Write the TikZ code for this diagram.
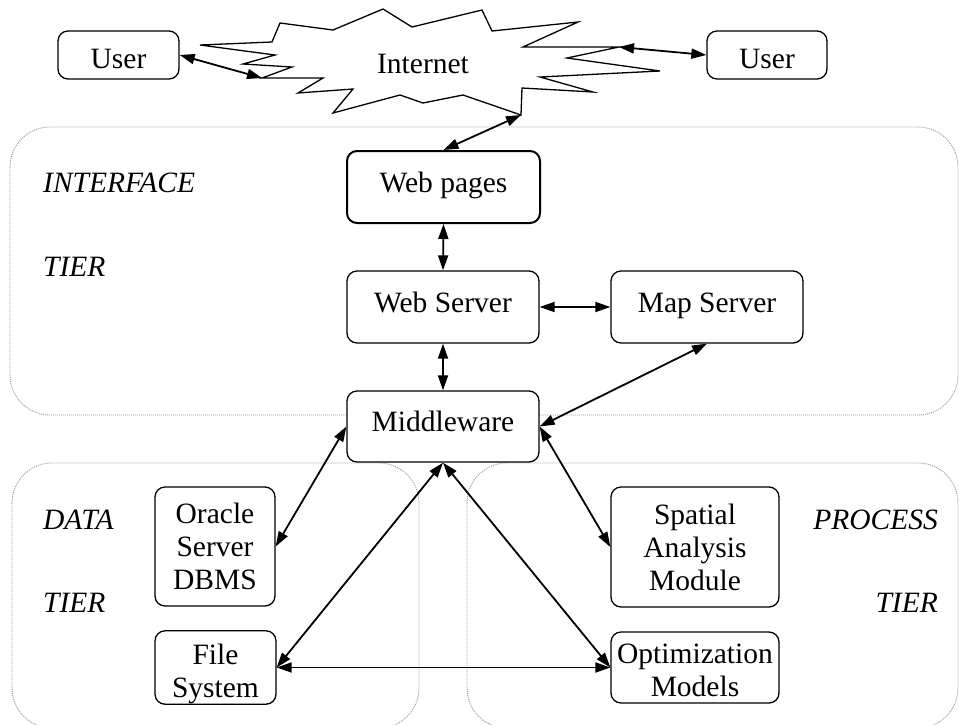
\documentclass[tikz,border=0pt]{standalone}
\usepackage{fontspec}
\setmainfont{Liberation Serif}
\usetikzlibrary{arrows.meta}
\definecolor{tiergray}{HTML}{9A9A9A}
\begin{document}
\begin{tikzpicture}[x=1pt,y=-1pt,
  box/.style={draw, rounded corners=10pt, line width=1.3pt, fill=white, inner sep=0pt, align=center, font=\fontsize{29.5}{33}\selectfont},
  oneline/.style={text height=20pt, text depth=10pt},
  tier/.style={draw=tiergray, dash pattern=on 1pt off 1pt, line width=0.9pt, rounded corners=40pt},
  tierlabel/.style={font=\fontsize{29.5}{33}\selectfont\itshape, inner sep=0pt},
  link/.style={{Triangle[length=15pt,width=10pt]}-{Triangle[length=15pt,width=10pt]}, line width=1.8pt},
]
\useasboundingbox (0,0) rectangle (959,724);
\fill[white] (0,0) rectangle (959,724);

% tiers
\begin{scope}
  \clip (0,0) rectangle (959,724);
  \draw[tier] (10,127) rectangle (958,415);
  \draw[tier] (12,463) rectangle (419,728);
  \draw[tier] (467,463) rectangle (958,728);
\end{scope}

\node[tierlabel, anchor=west] (lint) at (43,183) {INTERFACE};
\node[tierlabel, anchor=west] (ltier1) at (43,267) {TIER};
\node[tierlabel, anchor=west] (ldata) at (43,520) {DATA};
\node[tierlabel, anchor=west] (ltier2) at (43,603) {TIER};
\node[tierlabel, anchor=east] (lproc) at (938,520) {PROCESS};
\node[tierlabel, anchor=east] (ltier3) at (938,603) {TIER};

% cloud
\coordinate (cL) at (262,78);
\coordinate (cR) at (619,47);
\coordinate (cB) at (521,115);
\draw[line width=1.3pt, fill=white, line join=miter]
  (200,45) -- (272,42) -- (280,23) -- (333,30) -- (383,9) -- (412,27) -- (482,10) -- (492,31)
  -- (578,22) -- (523,47) -- (cR) -- (567,58) -- (660,71) -- (540,77) -- (593,92) -- (522,88)
  -- (cB) -- (463,95) -- (423,103) -- (400,95) -- (333,113) -- (353,89) -- (298,93) -- (323,78)
  -- (cL) -- (292,67) -- (243,64) -- (275,55) -- cycle;
\node[font=\fontsize{29.5}{33}\selectfont, inner sep=0pt, anchor=base] (inet) at (423,73) {Internet};

% nodes
\node[box, text height=30pt, text depth=4pt, minimum width=121pt, minimum height=48pt] (userL) at (118.5,55) {User};
\node[box, text height=30pt, text depth=4pt, minimum width=120pt, minimum height=48pt] (userR) at (767,55) {User};
\node[box, oneline, line width=2pt, minimum width=193pt, minimum height=72pt] (wp) at (443.5,187) {Web pages};
\node[box, oneline, minimum width=192pt, minimum height=72pt] (ws) at (443,307) {Web Server};
\node[box, oneline, minimum width=192pt, minimum height=72pt] (ms) at (707,307) {Map Server};
\node[box, oneline, minimum width=192pt, minimum height=71pt] (mw) at (443,426.5) {Middleware};
\node[box, minimum width=120pt, minimum height=119pt] (ora) at (215,546.5) {Oracle\\Server\\DBMS};
\node[box, text height=67pt, minimum width=121pt, minimum height=71pt] (fs) at (215.5,667.5) {File\\System};
\node[box, minimum width=168pt, minimum height=120pt] (sam) at (695,547) {Spatial\\Analysis\\Module};
\node[box, text height=59pt, minimum width=168pt, minimum height=71pt] (opt) at (695,667.5) {Optimization\\Models};

% connectors
\draw[link] (userL.east) -- (cL);
\draw[link] (userR.west) -- (cR);
\draw[link] (cB) -- (wp.north);
\draw[link] (wp.south) -- (ws.north);
\draw[link] (ws.east) -- (ms.west);
\draw[link] (ws.south) -- (mw.north);
\draw[link] (ms.south) -- (mw.east);
\draw[link] (mw.west) -- (ora.east);
\draw[link] (mw.east) -- (sam.west);
\draw[link] (mw.south) -- (fs.east);
\draw[link] (mw.south) -- (opt.west);
\draw[link] (fs.east) -- (opt.west);
\end{tikzpicture}
\end{document}
